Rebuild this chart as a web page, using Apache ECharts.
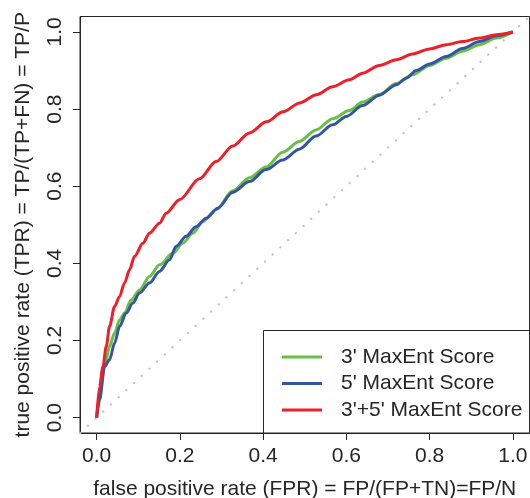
<!DOCTYPE html>
<html>
<head>
<meta charset="utf-8">
<script src="https://cdn.jsdelivr.net/npm/echarts@6/dist/echarts.min.js"></script>
<style>
  html, body { margin: 0; padding: 0; background: #fff; }
  #chart { width: 530px; height: 498px; }
</style>
</head>
<body>
<div id="chart"></div>
<script>
// ROC curves
const tickValues = [0, 0.2, 0.4, 0.6, 0.8, 1.0]
const seriesNames = ["3' MaxEnt Score", "5' MaxEnt Score", "3'+5' MaxEnt Score"]

// 3' score (green)
const roc3 = [
  [0, 0], [0.005, 0.04], [0.019, 0.132], [0.031, 0.184], [0.043, 0.219], [0.055, 0.253],
  [0.067, 0.271], [0.083, 0.305], [0.103, 0.331], [0.127, 0.366], [0.151, 0.396],
  [0.183, 0.426], [0.207, 0.452], [0.231, 0.478], [0.255, 0.508], [0.287, 0.539],
  [0.327, 0.588], [0.367, 0.622], [0.407, 0.650], [0.447, 0.688], [0.487, 0.716],
  [0.527, 0.746], [0.567, 0.775], [0.607, 0.796], [0.639, 0.818], [0.679, 0.838],
  [0.720, 0.866], [0.759, 0.889], [0.800, 0.913], [0.840, 0.932], [0.879, 0.950],
  [0.920, 0.967], [0.960, 0.984], [1, 1]
]

// 5' score (blue)
const roc5 = [
  [0, 0], [0.007, 0.046], [0.019, 0.132], [0.031, 0.150], [0.043, 0.193], [0.055, 0.236],
  [0.071, 0.271], [0.087, 0.297], [0.103, 0.323], [0.127, 0.349], [0.151, 0.379],
  [0.175, 0.409], [0.191, 0.444], [0.215, 0.470], [0.239, 0.495], [0.263, 0.517],
  [0.291, 0.543], [0.327, 0.584], [0.367, 0.612], [0.407, 0.643], [0.447, 0.668],
  [0.487, 0.696], [0.527, 0.730], [0.567, 0.759], [0.600, 0.781], [0.639, 0.809],
  [0.679, 0.836], [0.720, 0.863], [0.744, 0.880], [0.768, 0.900], [0.800, 0.917],
  [0.840, 0.936], [0.879, 0.957], [0.920, 0.975], [0.960, 0.990], [1, 1]
]

// 3'+5' score (red)
const roc35 = [
  [0, 0], [0.007, 0.080], [0.015, 0.132], [0.023, 0.184], [0.031, 0.236], [0.043, 0.288],
  [0.055, 0.314], [0.067, 0.349], [0.079, 0.383], [0.091, 0.418], [0.111, 0.452],
  [0.127, 0.478], [0.151, 0.504], [0.167, 0.530], [0.199, 0.565], [0.247, 0.619],
  [0.287, 0.664], [0.327, 0.704], [0.367, 0.738], [0.408, 0.767], [0.448, 0.793],
  [0.488, 0.816], [0.528, 0.837], [0.567, 0.858], [0.607, 0.876], [0.639, 0.893],
  [0.679, 0.913], [0.720, 0.928], [0.759, 0.943], [0.800, 0.956], [0.840, 0.967],
  [0.879, 0.975], [0.920, 0.984], [0.960, 0.993], [1, 1]
]

// chance line
const diagonal = [[-0.04, -0.04], [1.04, 1.04]]

const font = 'Liberation Sans, Arial, Helvetica, sans-serif'
const ink = '#262626'
const colors = ['#68c040', '#3554a8', '#ee1f26']

const chart = echarts.init(document.getElementById('chart'))

function axis(name, gap, isY) {
  return {
    type: 'value',
    min: -0.04,
    max: 1.04,
    name: name,
    nameLocation: 'middle',
    nameGap: gap,
    nameTextStyle: { fontFamily: font, fontSize: 21, color: ink },
    splitLine: { show: false },
    axisLine: { show: true, onZero: false, lineStyle: { color: ink, width: 1 } },
    axisTick: { show: true, length: 7, customValues: tickValues, lineStyle: { color: ink } },
    axisLabel: {
      customValues: tickValues,
      fontFamily: font,
      fontSize: 21,
      color: ink,
      margin: isY ? 14 : 13,
      rotate: isY ? 90 : 0,
      formatter: v => v.toFixed(1)
    }
  }
}

function curve(i, data) {
  return {
    name: seriesNames[i], type: 'line', data: data, showSymbol: false,
    smooth: 0.3, smoothMonotone: 'x',
    color: colors[i], lineStyle: { width: 3 }
  }
}

chart.setOption({
  animation: false,
  backgroundColor: '#fff',
  grid: {
    left: 80, top: 16.5, right: 0.5, bottom: 65,
    show: true, borderColor: ink, borderWidth: 1,
    outerBoundsMode: 'none'
  },
  xAxis: axis('false positive rate (FPR) = FP/(FP+TN)=FP/N', 46, false),
  yAxis: axis('true positive rate (TPR) = TP/(TP+FN) = TP/P', 46, true),
  legend: {
    data: seriesNames,
    orient: 'vertical',
    left: 282,
    top: 346.5,
    padding: 0,
    icon: 'rect',
    itemWidth: 40,
    itemHeight: 3,
    itemGap: 5.5,
    textStyle: { fontFamily: font, fontSize: 21, color: ink, lineHeight: 20, padding: [0, 0, 0, 14] }
  },
  graphic: [{
    type: 'rect',
    z: 1,
    shape: { x: 263.5, y: 330.5, width: 266, height: 102.5 },
    style: { fill: '#fff', stroke: ink, lineWidth: 1 }
  }],
  series: [
    {
      type: 'line', data: diagonal, showSymbol: false, silent: true,
      lineStyle: { color: '#c4c4c4', width: 2.2, type: [0.3, 10.2], cap: 'round' }
    },
    curve(0, roc3),
    curve(1, roc5),
    curve(2, roc35)
  ]
})
</script>
</body>
</html>
